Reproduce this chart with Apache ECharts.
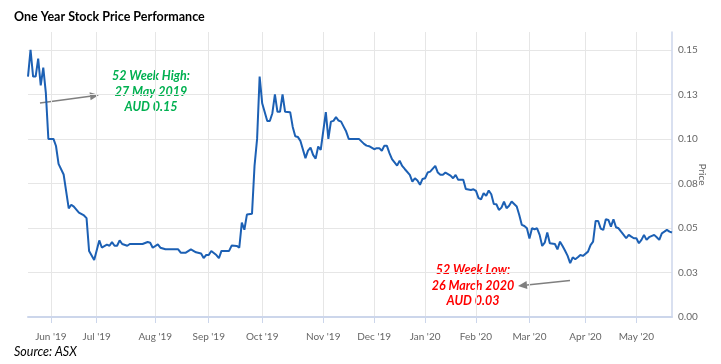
<!DOCTYPE html>
<html><head><meta charset="utf-8">
<script src="https://cdn.jsdelivr.net/npm/echarts@6/dist/echarts.min.js"></script>
<style>html,body{margin:0;padding:0;background:#fff}#c{width:721px;height:364px}</style>
</head><body><div id="c"></div>
<script>
// ---- data ----
const tradingDayCount = 254; // trading days shown (ordinal axis)
const monthLabels = ["Jun '19","Jul '19","Aug '19","Sep '19","Oct '19","Nov '19","Dec '19","Jan '20","Feb '20","Mar '20","Apr '20","May '20"];
const monthStartIdx = [9, 27, 50, 71, 92, 116, 136, 156, 176, 197, 219, 239];
const yTickLabels = ['0.00','0.03','0.05','0.08','0.10','0.13','0.15'];
const yStep = 0.025;
const dayIdx = [0,1,2,3,4,5,6,7,8,10,11,12,14,16,17,18,20,22,23,24,26,28,29,31,32,33,34,35,36,37,39,40,45,47,48,49,51,52,54,59,60,62,64,66,68,69,70,71,72,74,75,76,79,80,82,83,84,85,86,88,89,90,91,92,94,95,96,97,98,99,100,101,103,104,105,106,107,109,110,111,112,113,114,115,117,118,119,120,121,122,123,124,125,126,130,132,133,134,136,137,138,139,140,141,142,143,145,146,147,148,150,151,152,153,154,155,156,157,158,160,161,162,163,164,166,167,168,169,171,172,174,175,176,177,178,179,180,181,182,183,184,185,186,187,188,189,190,192,193,194,195,196,197,198,199,200,201,202,203,204,205,207,208,209,210,211,212,213,214,215,216,217,218,220,221,222,223,224,225,226,227,228,229,230,231,232,233,234,235,236,237,238,239,240,241,242,243,244,246,247,248,249,250,251,252,253];
const price = [0.135,0.150,0.135,0.135,0.145,0.130,0.140,0.126,0.100,0.100,0.096,0.086,0.080,0.061,0.063,0.062,0.0586,0.057,0.0555,0.037,0.032,0.043,0.039,0.0406,0.040,0.042,0.040,0.040,0.043,0.041,0.040,0.041,0.041,0.0421,0.0417,0.0389,0.0408,0.0389,0.038,0.038,0.0361,0.0361,0.038,0.0363,0.0357,0.0331,0.0348,0.0348,0.0371,0.0348,0.033,0.0371,0.0371,0.0401,0.0399,0.039,0.053,0.049,0.0575,0.058,0.085,0.100,0.135,0.120,0.110,0.110,0.1144,0.125,0.1152,0.1152,0.125,0.1152,0.115,0.1067,0.1015,0.1011,0.0989,0.0892,0.0934,0.0951,0.091,0.0889,0.0957,0.0938,0.115,0.100,0.1097,0.1101,0.1122,0.1103,0.1097,0.1069,0.1041,0.100,0.100,0.0972,0.0962,0.0959,0.0942,0.0948,0.0948,0.0933,0.0962,0.0961,0.092,0.0886,0.085,0.0878,0.0848,0.0831,0.0798,0.076,0.0779,0.0766,0.0742,0.0775,0.0779,0.0811,0.0816,0.0848,0.0811,0.0798,0.0798,0.0811,0.0794,0.0779,0.0798,0.077,0.077,0.0719,0.0713,0.0717,0.0708,0.0667,0.0661,0.0695,0.0681,0.071,0.0689,0.0635,0.0633,0.0601,0.0614,0.0648,0.0611,0.0625,0.0648,0.062,0.0573,0.0517,0.0511,0.0498,0.044,0.0498,0.0493,0.0498,0.0461,0.0399,0.0417,0.0474,0.0414,0.041,0.038,0.0423,0.0399,0.0372,0.0343,0.0302,0.0335,0.0324,0.0335,0.0348,0.0343,0.0367,0.0404,0.0423,0.0539,0.0539,0.0496,0.0489,0.0549,0.0545,0.0507,0.0549,0.0504,0.0498,0.0479,0.0461,0.0442,0.0461,0.0451,0.0442,0.0442,0.0414,0.0433,0.0461,0.0433,0.0448,0.0461,0.0448,0.0433,0.047,0.0479,0.0489,0.0479,0.0474];
const highNote = ['52 Week High:', '27 May 2019', 'AUD 0.15'];
const lowNote = ['52 Week Low:', '26 March 2020', 'AUD 0.03'];

// ---- chart ----
const categories = Array.from({length: tradingDayCount}, (_, i) => String(i));
const isMonthStart = (i) => monthStartIdx.indexOf(i) !== -1;
const FONT = 'Lato, "Open Sans", sans-serif';

function arrow(x1, y1, x2, y2, color) {
  const len = 9, half = 4;
  const dx = x2 - x1, dy = y2 - y1, d = Math.sqrt(dx*dx + dy*dy);
  const ux = dx / d, uy = dy / d;
  const bx = x2 - ux * len, by = y2 - uy * len;
  return [
    {type: 'line', silent: true, shape: {x1, y1, x2: bx, y2: by}, style: {stroke: color, lineWidth: 1.5}},
    {type: 'polygon', silent: true, shape: {points: [[x2, y2], [bx - uy * half, by + ux * half], [bx + uy * half, by - ux * half]]}, style: {fill: color}}
  ];
}
function noteLines(lines, cx, y0, lh, color) {
  return lines.map((t, i) => ({
    type: 'text', silent: true, x: cx, y: y0 + i * lh,
    style: {text: t, fill: color, font: 'italic bold 12.5px ' + FONT, align: 'center', verticalAlign: 'middle'}
  }));
}

const chart = echarts.init(document.getElementById('c'), null, {renderer: 'canvas'});
chart.setOption({
  animation: false,
  backgroundColor: '#ffffff',
  grid: {left: 28, right: 49, top: 32, bottom: 47, containLabel: false},
  xAxis: {
    type: 'category', data: categories, boundaryGap: false, offset: 9,
    axisLine: {show: true, lineStyle: {color: '#ccd6eb', width: 2}},
    axisTick: {show: true, interval: (i) => isMonthStart(i), length: 6, lineStyle: {color: '#ccd6eb', width: 1}},
    axisLabel: {
      interval: (i) => isMonthStart(i),
      formatter: (v, i) => { const k = monthStartIdx.indexOf(i); return k >= 0 ? monthLabels[k] : ''; },
      color: '#666666', fontSize: 10, fontFamily: FONT, margin: 6
    },
    splitLine: {show: true, interval: (i) => isMonthStart(i), lineStyle: {color: '#e6e6e6', width: 1}}
  },
  yAxis: {
    type: 'value', position: 'right', min: 0, max: 0.16, interval: yStep,
    name: 'Price', nameLocation: 'middle', nameRotate: -90, nameGap: 25, nameMoveOverlap: false,
    nameTextStyle: {color: '#666666', fontSize: 10, fontFamily: FONT},
    axisLine: {show: true, lineStyle: {color: '#ccd6eb', width: 1.5}},
    axisTick: {show: false},
    axisLabel: {
      color: '#666666', fontSize: 10, fontFamily: FONT, margin: 6, showMaxLabel: false,
      formatter: (v) => { const k = Math.round(v / yStep); return (Math.abs(v - k * yStep) < 1e-9 && k < yTickLabels.length) ? yTickLabels[k] : ''; }
    },
    splitLine: {show: true, showMaxLine: false, lineStyle: {color: '#e6e6e6', width: 1}}
  },
  series: [{
    type: 'line', showSymbol: false, symbol: 'none',
    data: dayIdx.map((d, i) => [String(d), price[i]]),
    lineStyle: {color: '#1c60b4', width: 2}
  }],
  graphic: [
    {type: 'text', silent: true, x: 14, y: 17, style: {text: 'One Year Stock Price Performance', fill: '#000000', font: 'bold 12.5px ' + FONT, align: 'left', verticalAlign: 'middle'}},
    {type: 'text', silent: true, x: 14, y: 352, style: {text: 'Source: ASX', fill: '#000000', font: 'italic 12.5px ' + FONT, align: 'left', verticalAlign: 'middle'}},
    ...noteLines(highNote, 151, 76, 15.5, '#00b050'),
    ...noteLines(lowNote, 473, 270, 15.5, '#ff0000'),
    ...arrow(40, 103, 99, 95, '#7f7f7f'),
    ...arrow(570, 280.5, 518, 286, '#7f7f7f')
  ]
});
</script>
</body></html>
